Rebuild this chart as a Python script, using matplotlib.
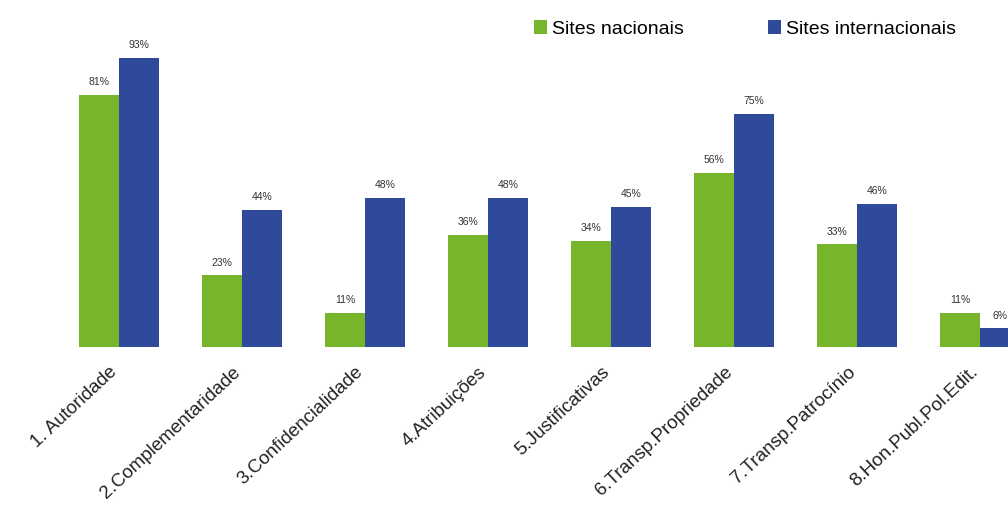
import matplotlib
matplotlib.use("Agg")
from matplotlib import pyplot as plt
from matplotlib import transforms
import numpy as np

plt.rcParams['font.family'] = ['Liberation Sans', 'DejaVu Sans']

categorias = ["1. Autoridade", "2.Complementaridade", "3.Confidencialidade",
              "4.Atribuições", "5.Justificativas", "6.Transp.Propriedade",
              "7.Transp.Patrocínio", "8.Hon.Publ.Pol.Edit."]
nacionais = [81, 23, 11, 36, 34, 56, 33, 11]
internacionais = [93, 44, 48, 48, 45, 75, 46, 6]
series = ["Sites nacionais", "Sites internacionais"]

verde = "#77b62b"
azul = "#2f4a9a"

fig = plt.figure(figsize=(10.08, 5.2), dpi=100)
ax = fig.add_axes([0, 0.3327, 1, 0.598])

x = np.arange(len(categorias))
w = 0.325
b1 = ax.bar(x - w / 2, nacionais, w, color=verde, label=series[0])
b2 = ax.bar(x + w / 2, internacionais, w, color=azul, label=series[1])

for bars, vals in ((b1, nacionais), (b2, internacionais)):
    for r, v in zip(bars, vals):
        ax.text(r.get_x() + r.get_width() / 2, v + 2.5, f"{v}%",
                ha="center", va="bottom", fontsize=7.5, color="#333333")

ax.set_xlim(-0.967, 7.228)
ax.set_ylim(0, 100)
ax.set_yticks([])
ax.set_xticks(x)
ax.set_xticklabels(categorias, rotation=43, ha="right", rotation_mode="anchor",
                   fontsize=13.5, color="#222222")
ax.tick_params(axis="x", length=0, pad=12)
desloc = transforms.ScaledTranslation(-10 / 100, 0, fig.dpi_scale_trans)
for lab in ax.get_xticklabels():
    lab.set_transform(lab.get_transform() + desloc)
for s in ax.spines.values():
    s.set_visible(False)

fig.legend(handles=[b1, b2], labels=series, loc="upper left",
           bbox_to_anchor=(0.512, 0.995), ncol=2, frameon=False,
           fontsize=14, handlelength=0.7, handleheight=0.7,
           handletextpad=0.25, columnspacing=4.3)

fig.savefig("out.png", dpi=100)
